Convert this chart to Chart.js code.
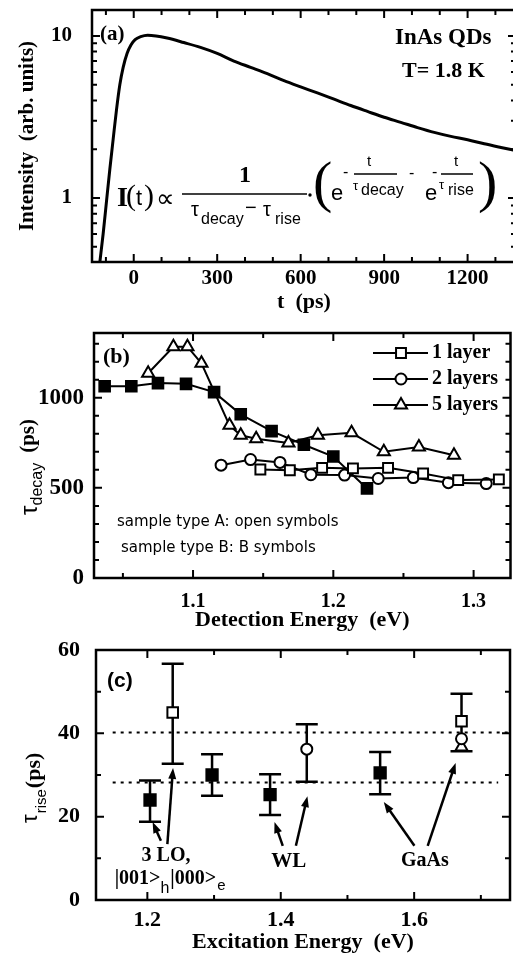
<!DOCTYPE html>
<html>
<head>
<meta charset="utf-8">
<title>InAs QDs</title>
<script src="https://cdn.jsdelivr.net/npm/chart.js@4.4.1/dist/chart.umd.min.js"></script>
<style>
body { margin:0; background:#fff; width:513px; height:958px; overflow:hidden; position:relative; }
canvas { position:absolute; left:0; }
</style>
</head>
<body>
<canvas id="chartA" width="520" height="320" style="top:0px"></canvas>
<canvas id="chartB" width="520" height="320" style="top:320px"></canvas>
<canvas id="chartC" width="520" height="318" style="top:640px"></canvas>
<script>
const SERIF = "'Liberation Serif', 'Times New Roman', serif";
const SANS = "'Liberation Sans', Arial, sans-serif";

// (a) PL transient
const timePs = [-122, -110, -98, -86, -74, -62, -50, -38, -24, -10, 5, 25, 50, 80, 120, 180, 240, 300, 360, 420, 480, 540, 600, 660, 720, 780, 840, 900, 960, 1020, 1080, 1140, 1200, 1260, 1320, 1380];
const intensity = [0.40, 0.60, 0.95, 1.5, 2.3, 3.5, 5.0, 6.4, 7.8, 8.8, 9.5, 9.9, 10.1, 10.0, 9.7, 9.1, 8.5, 7.8, 7.0, 6.4, 5.85, 5.3, 4.85, 4.45, 4.07, 3.72, 3.42, 3.15, 2.93, 2.72, 2.54, 2.40, 2.29, 2.16, 2.05, 1.95];
const timeTicks = [-100, 0, 100, 200, 300, 400, 500, 600, 700, 800, 900, 1000, 1100, 1200, 1300];
const timeLabels = ['', '0', '', '', '300', '', '', '600', '', '', '900', '', '', '1200', ''];
const intensityTicks = [0.5, 0.6, 0.7, 0.8, 0.9, 1, 2, 3, 4, 5, 6, 7, 8, 9, 10];
const intensityLabels = ['', '', '', '', '', '1', '', '', '', '', '', '', '', '', '10'];

// (b) decay time vs detection energy
const detFilled1 = [1.037, 1.056, 1.075, 1.095, 1.115, 1.134, 1.156, 1.179, 1.200, 1.224];
const decayFilled1 = [1064, 1064, 1081, 1077, 1031, 908, 815, 739, 674, 497];
const detOpen1 = [1.148, 1.169, 1.192, 1.214, 1.239, 1.264, 1.289, 1.318];
const decayOpen1 = [602, 598, 611, 608, 611, 580, 543, 547];
const detOpen2 = [1.120, 1.141, 1.162, 1.184, 1.208, 1.232, 1.257, 1.282, 1.309];
const decayOpen2 = [626, 657, 641, 573, 571, 552, 557, 529, 524];
const detOpen5 = [1.068, 1.086, 1.096, 1.106, 1.126, 1.134, 1.145, 1.168, 1.189, 1.213, 1.236, 1.261, 1.286];
const decayOpen5 = [1136, 1283, 1283, 1191, 847, 792, 773, 749, 792, 805, 700, 727, 681];
const layerNames = ['1 layer', '2 layers', '5 layers'];
const detTicks = [1.05, 1.1, 1.15, 1.2, 1.25, 1.3];
const detLabels = ['', '1.1', '', '1.2', '', '1.3'];
const decayTicks = [0, 100, 200, 300, 400, 500, 600, 700, 800, 900, 1000, 1100, 1200, 1300];
const decayLabels = ['0', '', '', '', '', '500', '', '', '', '', '1000', '', '', ''];

// (c) rise time vs excitation energy
const excFilled = [1.204, 1.297, 1.384, 1.549];
const riseFilled = [24, 30, 25.3, 30.5];
const excSquare = [1.238, 1.671];
const riseSquare = [45, 42.9];
const excCircle = [1.439, 1.671];
const riseCircle = [36.2, 38.7];
const excTriangle = [1.671];
const riseTriangle = [36.7];
const errE = [1.204, 1.238, 1.297, 1.384, 1.439, 1.549, 1.671];
const errLow = [18.8, 32.7, 25, 20.4, 28.4, 25.4, 35.7];
const errHigh = [28.7, 56.7, 35, 30.2, 42.2, 35.5, 49.5];
const refUpperE = [1.148, 1.744];
const refUpper = [40.2, 40.2];
const refLowerE = [1.148, 1.726];
const refLower = [28.2, 28.2];
const arrowFromE = [1.2203, 1.230, 1.403, 1.4227, 1.6004, 1.6203];
const arrowFromTau = [14.2, 13.4, 13.0, 13.0, 13.0, 13.0];
const arrowToE = [1.2079, 1.2385, 1.3906, 1.440, 1.5545, 1.6622];
const arrowToTau = [18.7, 31.7, 18.7, 24.9, 23.5, 32.9];
const excTicks = [1.2, 1.3, 1.4, 1.5, 1.6, 1.7];
const excLabels = ['1.2', '', '1.4', '', '1.6', ''];
const riseTicks = [0, 10, 20, 30, 40, 50, 60];
const riseLabels = ['0', '', '20', '', '40', '', '60'];

function pts(xs, ys){
    return xs.map((x, i) => ({x: x, y: ys[i]}));
}

function txt(ctx, s, x, y, font, align, base){
    ctx.font = font;
    ctx.textAlign = align || 'left';
    ctx.textBaseline = base || 'middle';
    ctx.fillText(s, x, y);
    return x + ctx.measureText(s).width;
}

function arrow(ctx, x1, y1, x2, y2){
    let ang = Math.atan2(y2 - y1, x2 - x1);
    let L = 11, W = 4;
    let c = Math.cos(ang), s = Math.sin(ang);
    ctx.beginPath();
    ctx.moveTo(x1, y1);
    ctx.lineTo(x2 - L * 0.8 * c, y2 - L * 0.8 * s);
    ctx.stroke();
    ctx.beginPath();
    ctx.moveTo(x2, y2);
    ctx.lineTo(x2 - L * c + W * s, y2 - L * s - W * c);
    ctx.lineTo(x2 - L * c - W * s, y2 - L * s + W * c);
    ctx.closePath();
    ctx.fill();
}

// frame + inward ticks on all four sides
const frameTicks = {
    id: 'frameTicks',
    afterDraw(chart){
        let ctx = chart.ctx, a = chart.chartArea;
        let sx = chart.scales.x, sy = chart.scales.y;
        ctx.save();
        ctx.strokeStyle = '#000';
        ctx.lineWidth = 2;
        sx.ticks.forEach(t => {
            let p = sx.getPixelForValue(t.value);
            if (p < a.left + 2 || p > a.right - 2) return;
            let len = t.label ? 8 : 5;
            ctx.beginPath();
            ctx.moveTo(p, a.bottom); ctx.lineTo(p, a.bottom - len);
            ctx.moveTo(p, a.top); ctx.lineTo(p, a.top + len);
            ctx.stroke();
        });
        sy.ticks.forEach(t => {
            let p = sy.getPixelForValue(t.value);
            if (p < a.top + 2 || p > a.bottom - 2) return;
            let len = t.label ? 8 : 5;
            ctx.beginPath();
            ctx.moveTo(a.left, p); ctx.lineTo(a.left + len, p);
            ctx.moveTo(a.right, p); ctx.lineTo(a.right - len, p);
            ctx.stroke();
        });
        ctx.lineWidth = 2.5;
        ctx.strokeRect(a.left, a.top, a.right - a.left, a.bottom - a.top);
        ctx.restore();
    }
};

function axes(o){
    return {
        x: {
            type: 'linear', min: o.xMin, max: o.xMax,
            grid: {display: false}, border: {display: false},
            afterBuildTicks: s => { s.ticks = o.xTicks.map(v => ({value: v})); },
            afterFit: s => { s.height = o.xHeight; s.paddingLeft = 0; s.paddingRight = 0; s.paddingTop = 0; s.paddingBottom = 0; },
            ticks: {autoSkip: false, maxRotation: 0, padding: o.xPad, color: '#000',
                font: {family: SERIF, size: o.xFont, weight: 'bold'},
                callback: (v, i) => o.xLabels[i]},
            title: {display: true, text: o.xTitle, color: '#000', padding: {top: 0, bottom: o.xTitlePad},
                font: {family: SERIF, size: 22, weight: 'bold'}}
        },
        y: {
            type: o.yType || 'linear', min: o.yMin, max: o.yMax,
            grid: {display: false}, border: {display: false},
            afterBuildTicks: s => { s.ticks = o.yTicks.map(v => ({value: v})); },
            afterFit: s => { s.width = o.yWidth; s.paddingLeft = 0; s.paddingRight = 0; s.paddingTop = 0; s.paddingBottom = 0; },
            ticks: {autoSkip: false, padding: o.yPad, color: '#000',
                font: {family: SERIF, size: o.yFont, weight: 'bold'},
                callback: (v, i) => o.yLabels[i]},
            title: o.yTitle ? {display: true, text: o.yTitle, color: '#000', padding: {top: o.yTitlePad, bottom: 0},
                font: {family: SERIF, size: 21, weight: 'bold'}} : {display: false}
        }
    };
}

function baseOptions(o, top){
    return {
        responsive: false,
        animation: false,
        layout: {padding: {left: 0, top: top, right: 4, bottom: 0}},
        plugins: {legend: {display: false}, tooltip: {enabled: false}},
        scales: axes(o)
    };
}

// ---------- (a)
const extrasA = {
    id: 'extrasA',
    afterDraw(chart){
        let ctx = chart.ctx;
        ctx.save();
        ctx.fillStyle = '#000';
        ctx.strokeStyle = '#000';
        txt(ctx, '(a)', 100, 35, 'bold 21px ' + SERIF);
        txt(ctx, 'InAs QDs', 395, 38, 'bold 23px ' + SERIF);
        txt(ctx, 'T= 1.8 K', 402, 71, 'bold 22px ' + SERIF);

        // I(t) formula
        txt(ctx, 'I', 117, 199, 'bold 28px ' + SERIF);
        txt(ctx, '(', 126, 197, '30px ' + SERIF);
        txt(ctx, 't', 136, 199, '22px ' + SANS);
        txt(ctx, ')', 144, 197, '30px ' + SERIF);
        txt(ctx, '\u221D', 156, 200, '26px ' + SERIF);
        txt(ctx, '1', 245, 176, 'bold 24px ' + SERIF, 'center');
        ctx.lineWidth = 1.5;
        ctx.beginPath(); ctx.moveTo(182, 194); ctx.lineTo(307, 194); ctx.stroke();
        txt(ctx, '\u03C4', 191, 210, '20px ' + SANS);
        txt(ctx, 'decay', 201, 220, '16px ' + SANS);
        txt(ctx, '\u2212', 245, 208, '20px ' + SANS);
        txt(ctx, '\u03C4', 263, 210, '20px ' + SANS);
        txt(ctx, 'rise', 275, 220, '16px ' + SANS);
        ctx.beginPath(); ctx.arc(310, 195, 1.7, 0, Math.PI * 2); ctx.fill();
        txt(ctx, '(', 313, 186, '58px ' + SERIF);
        txt(ctx, 'e', 331, 194, '22px ' + SANS);
        txt(ctx, '-', 343, 173, '16px ' + SANS);
        ctx.beginPath(); ctx.moveTo(354, 174); ctx.lineTo(397, 174); ctx.stroke();
        txt(ctx, 't', 369, 162, '15px ' + SANS, 'center');
        txt(ctx, '\u03C4', 353, 186, '13px ' + SANS);
        txt(ctx, 'decay', 361, 191, '16px ' + SANS);
        txt(ctx, '-', 409, 174, '16px ' + SANS);
        txt(ctx, 'e', 425, 194, '22px ' + SANS);
        txt(ctx, '-', 432, 173, '16px ' + SANS);
        ctx.beginPath(); ctx.moveTo(441, 174); ctx.lineTo(473, 174); ctx.stroke();
        txt(ctx, 't', 456, 162, '15px ' + SANS, 'center');
        txt(ctx, '\u03C4', 439, 185, '13px ' + SANS);
        txt(ctx, 'rise', 448, 191, '16px ' + SANS);
        txt(ctx, ')', 478, 186, '58px ' + SERIF);
        ctx.restore();
    }
};

const optA = baseOptions({
    xMin: -150, xMax: 1374, xTicks: timeTicks, xLabels: timeLabels, xHeight: 58, xPad: -4, xFont: 21,
    xTitle: 't  (ps)', xTitlePad: 4,
    yType: 'logarithmic', yMin: 0.403, yMax: 14.45, yTicks: intensityTicks, yLabels: intensityLabels,
    yWidth: 92, yPad: 12, yFont: 21, yTitle: 'Intensity  (arb. units)', yTitlePad: 15
}, 10);

new Chart(document.getElementById('chartA'), {
    type: 'scatter',
    data: {
        datasets: [{
            data: pts(timePs, intensity),
            showLine: true,
            borderColor: '#000',
            borderWidth: 3,
            pointRadius: 0,
            cubicInterpolationMode: 'monotone'
        }]
    },
    options: optA,
    plugins: [frameTicks, extrasA]
});

// ---------- (b)
function serie(xs, ys, style, r, fill){
    return {
        data: pts(xs, ys),
        showLine: true,
        borderColor: '#000',
        borderWidth: 2,
        pointStyle: style,
        pointRadius: r,
        pointBackgroundColor: fill,
        pointBorderColor: '#000',
        pointBorderWidth: 2
    };
}

const datasetsB = [
    serie(detOpen1, decayOpen1, 'rect', 7, '#fff'),
    serie(detOpen2, decayOpen2, 'circle', 5.5, '#fff'),
    serie(detOpen5, decayOpen5, 'triangle', 7, '#fff'),
    serie(detFilled1, decayFilled1, 'rect', 7.5, '#000')
];

const extrasB = {
    id: 'extrasB',
    afterDraw(chart){
        let ctx = chart.ctx;
        ctx.save();
        ctx.fillStyle = '#000';
        ctx.strokeStyle = '#000';
        txt(ctx, '(b)', 103, 37, 'bold 22px ' + SERIF);

        // legend
        let rows = [33, 59, 85];
        for (let i = 0; i < 3; i++) {
            let ds = datasetsB[i];
            ctx.lineWidth = 2;
            ctx.beginPath(); ctx.moveTo(373, rows[i]); ctx.lineTo(428, rows[i]); ctx.stroke();
            ctx.fillStyle = '#fff';
            Chart.helpers.drawPoint(ctx, {pointStyle: ds.pointStyle, radius: ds.pointRadius, borderWidth: 2, rotation: 0}, 401, rows[i]);
            ctx.fillStyle = '#000';
            txt(ctx, layerNames[i], 432, rows[i], 'bold 20px ' + SERIF);
        }

        txt(ctx, 'sample type A: open symbols', 117, 202, '15px DejaVu Sans');
        txt(ctx, 'sample type B: B symbols', 121, 228, '15px DejaVu Sans');

        // y title with subscript
        ctx.translate(37, 195);
        ctx.rotate(-Math.PI / 2);
        let x = txt(ctx, '\u03C4', 0, 0, '24px ' + SANS, 'left', 'alphabetic');
        x = txt(ctx, 'decay', x, 5, '16px ' + SANS, 'left', 'alphabetic');
        txt(ctx, '(ps)', x + 10, -3, 'bold 21px ' + SERIF, 'left', 'alphabetic');
        ctx.restore();
    }
};

const optB = baseOptions({
    xMin: 1.0294, xMax: 1.3263, xTicks: detTicks, xLabels: detLabels, xHeight: 62, xPad: 4, xFont: 20,
    xTitle: 'Detection Energy  (eV)', xTitlePad: 6,
    yMin: 0, yMax: 1359, yTicks: decayTicks, yLabels: decayLabels,
    yWidth: 94, yPad: 2, yFont: 23
}, 13);

new Chart(document.getElementById('chartB'), {
    type: 'scatter',
    data: {datasets: datasetsB},
    options: optB,
    plugins: [frameTicks, extrasB]
});

// ---------- (c)
function marca(xs, ys, style, r, fill){
    return {
        data: pts(xs, ys),
        showLine: false,
        pointStyle: style,
        pointRadius: r,
        pointBackgroundColor: fill,
        pointBorderColor: '#000',
        pointBorderWidth: 2
    };
}

function linea(xs, ys){
    return {
        data: pts(xs, ys),
        showLine: true,
        borderColor: '#000',
        borderWidth: 2,
        borderDash: [3, 5],
        pointRadius: 0
    };
}

const extrasC = {
    id: 'extrasC',
    beforeDatasetsDraw(chart){
        let ctx = chart.ctx, sx = chart.scales.x, sy = chart.scales.y;
        ctx.save();
        ctx.strokeStyle = '#000';
        ctx.lineWidth = 2.5;
        for (let i = 0; i < errE.length; i++) {
            let px = sx.getPixelForValue(errE[i]);
            let lo = sy.getPixelForValue(errLow[i]);
            let hi = sy.getPixelForValue(errHigh[i]);
            ctx.beginPath();
            ctx.moveTo(px, lo); ctx.lineTo(px, hi);
            ctx.moveTo(px - 11, lo); ctx.lineTo(px + 11, lo);
            ctx.moveTo(px - 11, hi); ctx.lineTo(px + 11, hi);
            ctx.stroke();
        }
        ctx.restore();
    },
    afterDraw(chart){
        let ctx = chart.ctx, sx = chart.scales.x, sy = chart.scales.y;
        ctx.save();
        ctx.fillStyle = '#000';
        ctx.strokeStyle = '#000';
        ctx.lineWidth = 2.5;
        for (let i = 0; i < arrowFromE.length; i++) {
            arrow(ctx, sx.getPixelForValue(arrowFromE[i]), sy.getPixelForValue(arrowFromTau[i]),
                sx.getPixelForValue(arrowToE[i]), sy.getPixelForValue(arrowToTau[i]));
        }
        txt(ctx, '(c)', 107, 41, 'bold 21px ' + SANS);
        txt(ctx, '3 LO,', sx.getPixelForValue(1.228), sy.getPixelForValue(10.5), 'bold 20px ' + SERIF, 'center');
        txt(ctx, 'WL', sx.getPixelForValue(1.412), sy.getPixelForValue(9.3), 'bold 21px ' + SERIF, 'center');
        txt(ctx, 'GaAs', sx.getPixelForValue(1.616), sy.getPixelForValue(9.3), 'bold 20px ' + SERIF, 'center');
        let kx = sx.getPixelForValue(1.151), ky = sy.getPixelForValue(5.2);
        kx = txt(ctx, '|001>', kx, ky, 'bold 20px ' + SERIF);
        kx = txt(ctx, 'h', kx, ky + 10, '16px ' + SANS);
        kx = txt(ctx, '|000>', kx + 1, ky, 'bold 20px ' + SERIF);
        txt(ctx, 'e', kx + 1, ky + 8, '15px ' + SANS);

        // y title with subscript
        ctx.translate(37, 183);
        ctx.rotate(-Math.PI / 2);
        let x = txt(ctx, '\u03C4', 0, 0, '22px ' + SANS, 'left', 'alphabetic');
        x = txt(ctx, 'rise', x + 1, 9, '15px ' + SANS, 'left', 'alphabetic');
        txt(ctx, '(ps)', x + 1, 3, 'bold 22px ' + SERIF, 'left', 'alphabetic');
        ctx.restore();
    }
};

const optC = baseOptions({
    xMin: 1.123, xMax: 1.7437, xTicks: excTicks, xLabels: excLabels, xHeight: 58, xPad: -1, xFont: 22,
    xTitle: 'Excitation Energy  (eV)', xTitlePad: 2,
    yMin: 0, yMax: 60, yTicks: riseTicks, yLabels: riseLabels,
    yWidth: 96, yPad: 8, yFont: 22
}, 10);

new Chart(document.getElementById('chartC'), {
    type: 'scatter',
    data: {
        datasets: [
            marca(excSquare, riseSquare, 'rect', 7.5, '#fff'),
            marca(excCircle, riseCircle, 'circle', 5.5, '#fff'),
            marca(excTriangle, riseTriangle, 'triangle', 7, '#fff'),
            marca(excFilled, riseFilled, 'rect', 8, '#000'),
            linea(refUpperE, refUpper),
            linea(refLowerE, refLower)
        ]
    },
    options: optC,
    plugins: [frameTicks, extrasC]
});
</script>
</body>
</html>
